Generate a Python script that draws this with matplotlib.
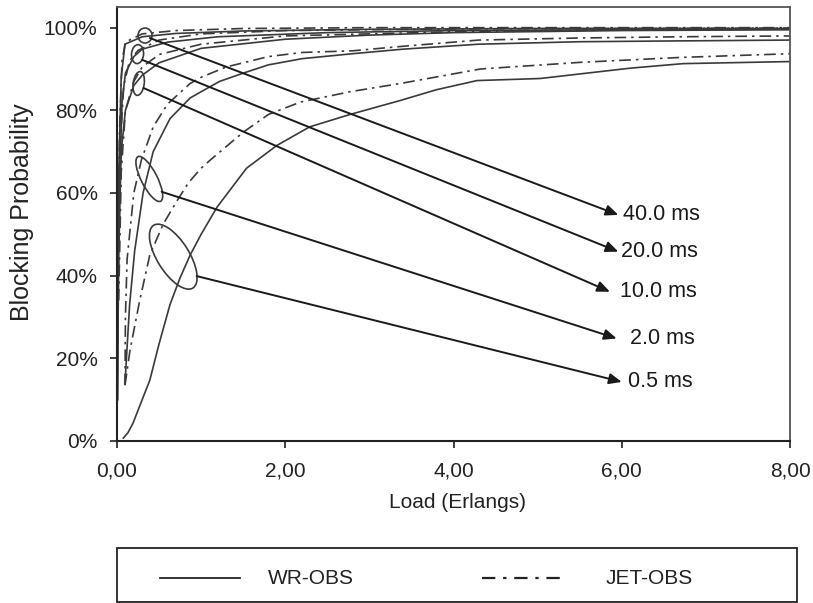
import matplotlib
matplotlib.use("Agg")
import matplotlib.pyplot as plt
from matplotlib.patches import Ellipse, Rectangle
from matplotlib.lines import Line2D
from matplotlib.transforms import ScaledTranslation
from matplotlib.ticker import FixedLocator, FixedFormatter

plt.rcParams['font.family'] = ['Liberation Sans', 'DejaVu Sans']

# ---------------- data ----------------
delays = ["0.5 ms", "2.0 ms", "10.0 ms", "20.0 ms", "40.0 ms"]
schemes = ["WR-OBS", "JET-OBS"]

# WR-OBS (solid)
wr_05_x = [0.075, 0.13, 0.19, 0.28, 0.39, 0.5, 0.63, 0.75, 0.87, 1.0, 1.19, 1.54, 1.9, 2.29, 2.77, 3.37, 3.8, 4.28, 5.03, 5.5, 6.1, 6.73, 8.0]
wr_05_y = [0.007, 0.02, 0.043, 0.09, 0.147, 0.235, 0.33, 0.395, 0.45, 0.5, 0.566, 0.66, 0.715, 0.76, 0.79, 0.824, 0.85, 0.872, 0.877, 0.888, 0.902, 0.913, 0.918]
wr_2_x = [0.095, 0.15, 0.21, 0.31, 0.43, 0.63, 0.87, 1.0, 1.22, 1.5, 1.8, 2.2, 2.8, 3.4, 4.3, 5.5, 6.7, 8.0]
wr_2_y = [0.14, 0.33, 0.46, 0.60, 0.70, 0.78, 0.83, 0.845, 0.87, 0.89, 0.91, 0.925, 0.937, 0.948, 0.96, 0.966, 0.968, 0.97]
wr_10_x = [0.005, 0.02, 0.05, 0.1, 0.2, 0.3, 0.5, 1.0, 2.0, 3.0, 4.0, 6.0, 8.0]
wr_10_y = [0.10, 0.45, 0.70, 0.80, 0.86, 0.885, 0.915, 0.95, 0.972, 0.982, 0.988, 0.993, 0.995]
wr_20_x = [0.005, 0.02, 0.06, 0.1, 0.2, 0.3, 0.6, 1.2, 2.5, 4.0, 6.0, 8.0]
wr_20_y = [0.10, 0.55, 0.82, 0.89, 0.93, 0.948, 0.965, 0.978, 0.988, 0.993, 0.995, 0.996]
wr_40_x = [0.005, 0.015, 0.05, 0.095, 0.3, 0.7, 1.5, 3.0, 5.0, 8.0]
wr_40_y = [0.10, 0.60, 0.88, 0.96, 0.978, 0.986, 0.992, 0.996, 0.998, 0.998]

# JET-OBS (dash-dot)
jet_05_x = [0.095, 0.155, 0.27, 0.39, 0.55, 0.71, 0.85, 1.0, 1.11, 1.5, 1.8, 2.18, 2.77, 3.37, 4.32, 5.5, 6.7, 8.0]
jet_05_y = [0.135, 0.22, 0.34, 0.45, 0.525, 0.58, 0.625, 0.66, 0.68, 0.747, 0.79, 0.82, 0.845, 0.865, 0.90, 0.916, 0.928, 0.937]
jet_2_x = [0.095, 0.1, 0.12, 0.2, 0.29, 0.43, 0.6, 0.87, 1.0, 1.3, 1.8, 2.2, 2.8, 3.4, 4.3, 5.5, 6.7, 8.0]
jet_2_y = [0.135, 0.30, 0.44, 0.60, 0.68, 0.76, 0.815, 0.865, 0.88, 0.905, 0.93, 0.94, 0.944, 0.955, 0.97, 0.975, 0.978, 0.98]
jet_10_x = [0.02, 0.05, 0.1, 0.2, 0.3, 0.5, 1.0, 2.0, 4.0, 6.0, 8.0]
jet_10_y = [0.34, 0.65, 0.80, 0.87, 0.905, 0.935, 0.96, 0.98, 0.99, 0.995, 0.997]
jet_20_x = [0.01, 0.04, 0.08, 0.15, 0.25, 0.5, 1.0, 2.0, 4.0, 6.0, 8.0]
jet_20_y = [0.30, 0.72, 0.86, 0.92, 0.945, 0.97, 0.985, 0.993, 0.997, 0.998, 0.999]
jet_40_x = [0.01, 0.03, 0.06, 0.1, 0.3, 0.7, 1.5, 3.0, 5.0, 8.0]
jet_40_y = [0.35, 0.75, 0.92, 0.965, 0.985, 0.993, 0.998, 1.0, 1.0, 1.0]

x_ticks = [0, 2, 4, 6, 8]
x_tick_labels = ["0,00", "2,00", "4,00", "6,00", "8,00"]
y_ticks = [0, 0.2, 0.4, 0.6, 0.8, 1.0]
y_tick_labels = ["0%", "20%", "40%", "60%", "80%", "100%"]

# annotation geometry (data coords): ellipse centre, arrow start, arrow tip, label position
ann_ellipse = {"0.5 ms": (0.669, 0.446), "2.0 ms": (0.384, 0.634), "10.0 ms": (0.258, 0.865),
               "20.0 ms": (0.244, 0.936), "40.0 ms": (0.333, 0.981)}
ann_start = {"0.5 ms": (0.947, 0.399), "2.0 ms": (0.53, 0.603), "10.0 ms": (0.315, 0.854),
             "20.0 ms": (0.30, 0.922), "40.0 ms": (0.39, 0.975)}
ann_tip = {"0.5 ms": (6.0, 0.143), "2.0 ms": (5.94, 0.248), "10.0 ms": (5.86, 0.361),
           "20.0 ms": (5.96, 0.458), "40.0 ms": (5.96, 0.547)}
ann_label = {"0.5 ms": (6.08, 0.143), "2.0 ms": (6.1, 0.248), "10.0 ms": (5.98, 0.361),
             "20.0 ms": (5.99, 0.458), "40.0 ms": (6.01, 0.547)}
# ellipse size in pixels (width, height, angle)
ann_shape = {"0.5 ms": (74, 32, -58), "2.0 ms": (50, 16, -63), "10.0 ms": (11, 24, -8),
             "20.0 ms": (12, 19, -5), "40.0 ms": (14, 15, 0)}

# ---------------- figure ----------------
W, H = 813, 603
fig = plt.figure(figsize=(W / 100, H / 100), dpi=100)
ax = fig.add_axes([117 / W, 1 - 441 / H, (790 - 117) / W, (441 - 7) / H])

curve_col = '#3a3a3a'
dd = (0, (7, 3, 1.5, 3))
wr = [(wr_05_x, wr_05_y), (wr_2_x, wr_2_y), (wr_10_x, wr_10_y), (wr_20_x, wr_20_y), (wr_40_x, wr_40_y)]
jet = [(jet_05_x, jet_05_y), (jet_2_x, jet_2_y), (jet_10_x, jet_10_y), (jet_20_x, jet_20_y), (jet_40_x, jet_40_y)]
for xs, ys in wr:
    ax.plot(xs, ys, color=curve_col, lw=1.2, solid_joinstyle='round')
for xs, ys in jet:
    ax.plot(xs, ys, color=curve_col, lw=1.2, linestyle=dd)

ax.set_xlim(0, 8)
ax.set_ylim(0, 1.05)

ax.xaxis.set_major_locator(FixedLocator(x_ticks))
ax.xaxis.set_major_formatter(FixedFormatter(x_tick_labels))
ax.yaxis.set_major_locator(FixedLocator(y_ticks))
ax.yaxis.set_major_formatter(FixedFormatter(y_tick_labels))
ax.tick_params(axis='both', direction='out', length=5, width=1.2, colors='#222222', labelsize=15)
ax.tick_params(axis='x', pad=9.5)
ax.tick_params(axis='y', pad=9.0)
for s in ['left', 'bottom']:
    ax.spines[s].set_color('#222222')
    ax.spines[s].set_linewidth(1.5)
for s in ['top', 'right']:
    ax.spines[s].set_color('#555555')
    ax.spines[s].set_linewidth(1.3)

ax.set_xlabel("Load (Erlangs)", fontsize=15, color='#222222')
ax.xaxis.set_label_coords(0.506, -0.12)
ax.set_ylabel("Blocking Probability", fontsize=18, color='#222222')
ax.yaxis.set_label_coords(-0.124, 0.5265)

# annotations
for d in delays:
    cx, cy = ann_ellipse[d]
    w, h, a = ann_shape[d]
    t = fig.dpi_scale_trans + ScaledTranslation(cx, cy, ax.transData)
    ax.add_patch(Ellipse((0, 0), w / 100, h / 100, angle=a, transform=t,
                         fill=False, edgecolor=curve_col, lw=1.2, clip_on=False))
    ax.annotate('', xy=ann_tip[d], xytext=ann_start[d],
                arrowprops=dict(arrowstyle='-|>,head_length=0.75,head_width=0.32',
                                color='#1a1a1a', lw=1.4, shrinkA=0, shrinkB=0))
    lx, ly = ann_label[d]
    ax.text(lx, ly, d, fontsize=15.5, color='#1a1a1a', ha='left', va='center')

# legend box
fig.add_artist(Rectangle((117 / W, 1.5 / H), (797 - 117) / W, (603 - 548 - 1.5) / H,
                         transform=fig.transFigure, fill=False, edgecolor='#222222', lw=1.3))
ly = 1 - 578 / H
fig.add_artist(Line2D([160 / W, 240 / W], [ly, ly], transform=fig.transFigure,
                      color='#222222', lw=1.3))
fig.text(268 / W, ly, schemes[0], fontsize=15, color='#222222', ha='left', va='center')
fig.add_artist(Line2D([482 / W, 564 / W], [ly, ly], transform=fig.transFigure,
                      color='#222222', lw=1.6, linestyle=(0, (6, 3.5, 1.5, 3.5))))
fig.text(606 / W, ly, schemes[1], fontsize=15, color='#222222', ha='left', va='center')

fig.savefig("out.png", dpi=100)
